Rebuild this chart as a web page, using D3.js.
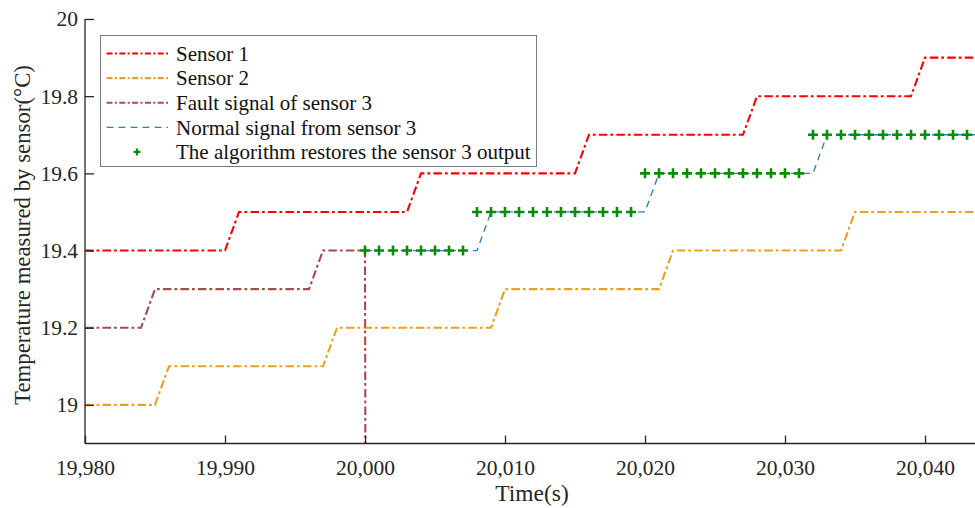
<!DOCTYPE html>
<html>
<head>
<meta charset="utf-8">
<script src="https://cdn.jsdelivr.net/npm/d3@7"></script>
<style>
  html, body { margin: 0; padding: 0; background: #fff; }
  svg { display: block; font-family: "Liberation Serif", "Times New Roman", serif; }
</style>
</head>
<body>
<svg id="chart" width="975" height="508"></svg>
<script>
// Corner points of each stepped trace: [time (s), temperature (°C)]
const sensor1 = [
  [19980, 19.4], [19990, 19.4], [19991, 19.5], [20003, 19.5], [20004, 19.6],
  [20015, 19.6], [20016, 19.7], [20027, 19.7], [20028, 19.8], [20039, 19.8],
  [20040, 19.9], [20044, 19.9]
];
const sensor2 = [
  [19980, 19.0], [19985, 19.0], [19986, 19.1], [19997, 19.1], [19998, 19.2],
  [20009, 19.2], [20010, 19.3], [20021, 19.3], [20022, 19.4], [20034, 19.4],
  [20035, 19.5], [20044, 19.5]
];
// Sensor 3 before the fault; the reading collapses to 0 right after t = 20000
const sensor3Fault = [
  [19980, 19.2], [19984, 19.2], [19985, 19.3], [19996, 19.3], [19997, 19.4],
  [20000, 19.4], [20001, 0]
];
// What sensor 3 should have read after t = 20000
const sensor3Normal = [
  [20000, 19.4], [20008, 19.4], [20009, 19.5], [20020, 19.5], [20021, 19.6],
  [20032, 19.6], [20033, 19.7], [20044, 19.7]
];
// Restored sensor 3 output, one sample per second
const restoredTime = [
  20000, 20001, 20002, 20003, 20004, 20005, 20006, 20007,
  20008, 20009, 20010, 20011, 20012, 20013, 20014, 20015, 20016, 20017, 20018, 20019,
  20020, 20021, 20022, 20023, 20024, 20025, 20026, 20027, 20028, 20029, 20030, 20031,
  20032, 20033, 20034, 20035, 20036, 20037, 20038, 20039, 20040, 20041, 20042, 20043
];
const restoredValue = [
  19.4, 19.4, 19.4, 19.4, 19.4, 19.4, 19.4, 19.4,
  19.5, 19.5, 19.5, 19.5, 19.5, 19.5, 19.5, 19.5, 19.5, 19.5, 19.5, 19.5,
  19.6, 19.6, 19.6, 19.6, 19.6, 19.6, 19.6, 19.6, 19.6, 19.6, 19.6, 19.6,
  19.7, 19.7, 19.7, 19.7, 19.7, 19.7, 19.7, 19.7, 19.7, 19.7, 19.7, 19.7
];
const xTicks = [19980, 19990, 20000, 20010, 20020, 20030, 20040];
const yTicks = [19, 19.2, 19.4, 19.6, 19.8, 20];
const legendLabels = [
  "Sensor 1",
  "Sensor 2",
  "Fault signal of sensor 3",
  "Normal signal from sensor 3",
  "The algorithm restores the sensor 3 output"
];

const svg = d3.select("#chart");
const plotLeft = 85, plotRight = 975, plotTop = 19, plotBottom = 443.5;

const x = d3.scaleLinear().domain([19980, 20043.57]).range([plotLeft, plotRight]);
const y = d3.scaleLinear().domain([18.9, 20]).range([plotBottom, plotTop]);

svg.append("defs").append("clipPath").attr("id", "plotClip")
  .append("rect").attr("x", plotLeft).attr("y", plotTop - 2)
  .attr("width", plotRight - plotLeft).attr("height", plotBottom - plotTop + 2);

const plot = svg.append("g").attr("clip-path", "url(#plotClip)");
const line = d3.line().x(d => x(d[0])).y(d => y(d[1]));

const dashDot = "8.5,3,2.8,3.2";
const styles = [
  { color: "#ff0000", width: 2.1, dash: dashDot, legendDash: "6,2.4,2,2.4" },
  { color: "#eaa11c", width: 2.1, dash: dashDot, legendDash: "6,2.4,2,2.4" },
  { color: "#a84b4d", width: 2.1, dash: dashDot, legendDash: "6,2.4,2,2.4" },
  { color: "#2a7fc4", width: 1.3, dash: "7,5", legendDash: "7,5" }
];
const markerColor = "#0b8a0b";

[sensor1, sensor2, sensor3Fault, sensor3Normal].forEach((series, i) => {
  plot.append("path")
    .datum(series)
    .attr("d", line)
    .attr("fill", "none")
    .attr("stroke", styles[i].color)
    .attr("stroke-width", styles[i].width)
    .attr("stroke-dasharray", styles[i].dash);
});

// "+" markers for the restored output
const crossPath = (size) => `M${-size},0H${size}M0,${-size}V${size}`;
plot.append("g").selectAll("path")
  .data(restoredTime.map((t, i) => [t, restoredValue[i]]))
  .join("path")
  .attr("transform", d => `translate(${x(d[0])},${y(d[1])})`)
  .attr("d", crossPath(5))
  .attr("stroke", markerColor)
  .attr("stroke-width", 2.6)
  .attr("fill", "none");

// Axes with inward ticks
const xAxis = d3.axisBottom(x).tickValues(xTicks).tickFormat(d3.format(",")).tickSizeInner(-8).tickSizeOuter(0).tickPadding(16);
const yAxis = d3.axisLeft(y).tickValues(yTicks).tickFormat(d => String(d)).tickSizeInner(-9).tickSizeOuter(0).tickPadding(16);

const gx = svg.append("g").attr("transform", `translate(0,${plotBottom})`).call(xAxis);
const gy = svg.append("g").attr("transform", `translate(${plotLeft},0)`).call(yAxis);

[gx, gy].forEach(g => {
  g.select(".domain").attr("stroke", "#262626").attr("stroke-width", 1.3);
  g.selectAll(".tick line").attr("stroke", "#262626").attr("stroke-width", 1.3);
  g.selectAll(".tick text")
    .attr("fill", "#262626")
    .style("font-family", "'Liberation Serif', 'Times New Roman', serif")
    .style("font-size", "21.5px");
});
gy.selectAll(".tick text").attr("x", -7);
gx.selectAll(".tick text").attr("y", 16);

// Axis lines span the whole plotting area
gy.select(".domain").attr("d", `M0,${plotBottom}V${plotTop}`);
gx.select(".domain").attr("d", `M${plotLeft},0H${plotRight}`);

svg.append("text")
  .attr("x", 532).attr("y", 501)
  .attr("text-anchor", "middle")
  .attr("fill", "#262626")
  .style("font-size", "23.5px")
  .text("Time(s)");

svg.append("text")
  .attr("transform", "translate(30,235) rotate(-90)")
  .attr("text-anchor", "middle")
  .attr("fill", "#262626")
  .style("font-size", "22.8px")
  .text("Temperature measured by sensor(°C)");

// Legend
const lg = svg.append("g");
lg.append("rect")
  .attr("x", 100.5).attr("y", 35.5)
  .attr("width", 436).attr("height", 131)
  .attr("fill", "#fff")
  .attr("stroke", "#7a7a7a")
  .attr("stroke-width", 1);

const rowY = i => 53.5 + i * 24.6;
legendLabels.forEach((label, i) => {
  const cy = rowY(i);
  if (i < 4) {
    lg.append("line")
      .attr("x1", 106.5).attr("x2", 168)
      .attr("y1", cy).attr("y2", cy)
      .attr("stroke", styles[i].color)
      .attr("stroke-width", styles[i].width)
      .attr("stroke-dasharray", styles[i].legendDash);
  } else {
    lg.append("path")
      .attr("transform", `translate(137,${cy})`)
      .attr("d", crossPath(3.5))
      .attr("stroke", markerColor)
      .attr("stroke-width", 2.2)
      .attr("fill", "none");
  }
  lg.append("text")
    .attr("x", 176).attr("y", cy)
    .attr("dy", "0.35em")
    .attr("fill", "#111")
    .style("font-size", "21px")
    .text(label);
});
</script>
</body>
</html>
